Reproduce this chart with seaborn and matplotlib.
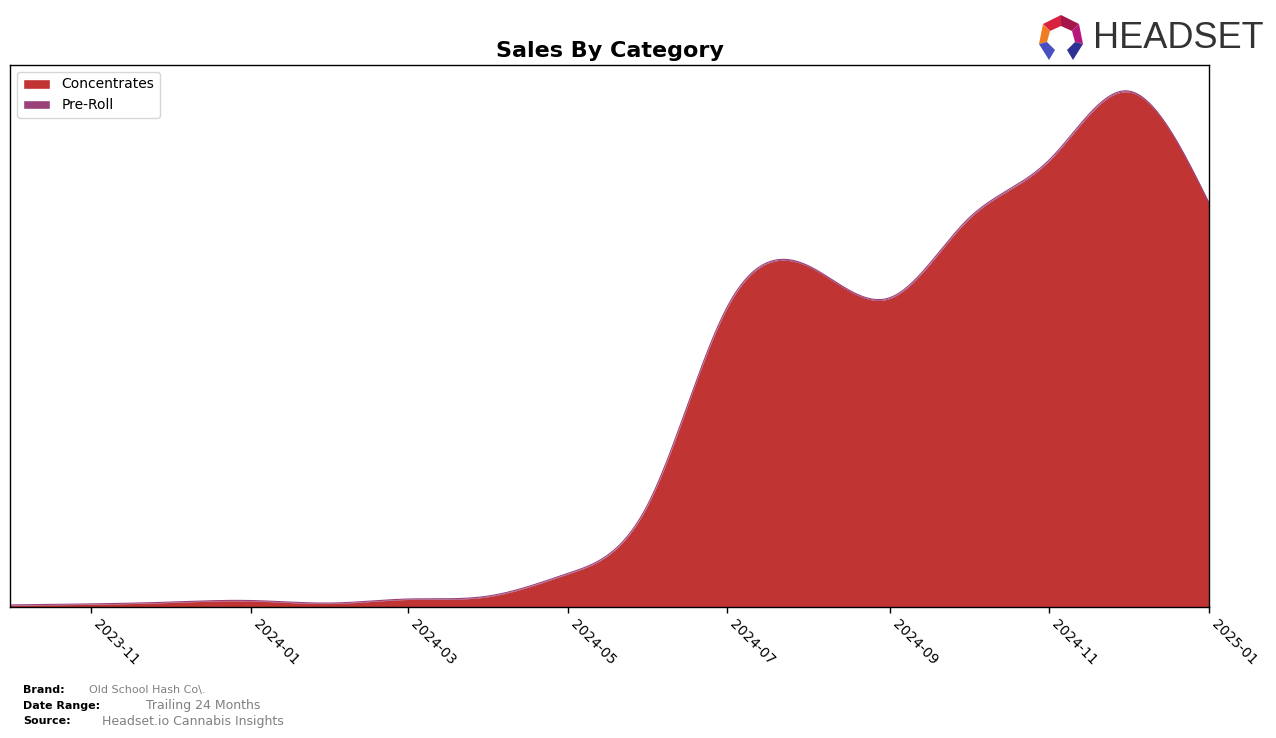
import numpy as np
import pandas as pd
import matplotlib
matplotlib.use("Agg")
import matplotlib.pyplot as plt
import matplotlib.dates as mdates
from matplotlib.patches import Patch, Polygon
import seaborn as sns

# ---------------- data ----------------
months = ["2023-10", "2023-11", "2023-12", "2024-01", "2024-02", "2024-03",
          "2024-04", "2024-05", "2024-06", "2024-07", "2024-08", "2024-09",
          "2024-10", "2024-11", "2024-12", "2025-01"]
concentrates = [170, 270, 450, 600, 350, 750, 1050, 3300, 10400, 30000,
                34100, 30900, 38800, 44700, 51600, 40400]
pre_roll = [40, 40, 40, 50, 50, 50, 60, 60, 70, 80, 80, 80, 90, 100, 100, 90]
categories = ["Concentrates", "Pre-Roll"]
colors = ["#c03434", "#9b4179"]
tick_months = ["2023-11", "2024-01", "2024-03", "2024-05", "2024-07",
               "2024-09", "2024-11", "2025-01"]

df = pd.DataFrame({"month": pd.to_datetime(months),
                   "Concentrates": concentrates, "Pre-Roll": pre_roll})


def natural_spline(x, y, xs):
    x = np.asarray(x, float)
    y = np.asarray(y, float)
    n = len(x)
    h = np.diff(x)
    A = np.zeros((n, n))
    b = np.zeros(n)
    A[0, 0] = 1
    A[-1, -1] = 1
    for i in range(1, n - 1):
        A[i, i - 1] = h[i - 1]
        A[i, i] = 2 * (h[i - 1] + h[i])
        A[i, i + 1] = h[i]
        b[i] = 3 * ((y[i + 1] - y[i]) / h[i] - (y[i] - y[i - 1]) / h[i - 1])
    c = np.linalg.solve(A, b)
    idx = np.clip(np.searchsorted(x, xs) - 1, 0, n - 2)
    t = xs - x[idx]
    bb = (y[idx + 1] - y[idx]) / h[idx] - h[idx] * (2 * c[idx] + c[idx + 1]) / 3
    dd = (c[idx + 1] - c[idx]) / (3 * h[idx])
    return y[idx] + bb * t + c[idx] * t ** 2 + dd * t ** 3


xnum = mdates.date2num(df["month"])
xs = np.linspace(xnum[0], xnum[-1], 1200)
conc_s = np.clip(natural_spline(xnum, df["Concentrates"], xs), 0, None)
pre_s = np.clip(natural_spline(xnum, df["Pre-Roll"], xs), 0, None)
top_s = conc_s + pre_s
xs_dates = mdates.num2date(xs)

# ---------------- figure ----------------
sns.set_style("white")
plt.rcParams["font.family"] = ["DejaVu Sans"]
plt.rcParams["text.color"] = "black"
plt.rcParams["xtick.color"] = "black"
plt.rcParams["axes.labelcolor"] = "black"

fig = plt.figure(figsize=(12.76, 7.38), dpi=100)
ax = fig.add_axes([10 / 1276, 1 - 607 / 738, (1209 - 10) / 1276, (607 - 65) / 738])

ax.fill_between(xs_dates, 0, conc_s, color=colors[0], linewidth=0)
ax.fill_between(xs_dates, conc_s, top_s, color=colors[1], linewidth=0)
smooth_df = pd.DataFrame({"date": xs_dates, "top": top_s})
sns.lineplot(data=smooth_df, x="date", y="top", ax=ax, color=colors[1],
             linewidth=0.8, legend=False)

ax.set_xlim(df["month"].iloc[0], df["month"].iloc[-1])
ax.set_ylim(0, top_s.max() * 1.05)
ax.set_yticks([])
ax.set_xlabel("")
ax.set_ylabel("")
ticks = pd.to_datetime(tick_months)
ax.set_xticks(ticks)
ax.set_xticklabels([t.strftime("%Y-%m") for t in ticks], rotation=-45,
                   ha="left", fontsize=10, color="black")
ax.tick_params(axis="x", length=4, width=1, color="black", bottom=True, pad=3)
for s in ax.spines.values():
    s.set_visible(True)
    s.set_color("black")
    s.set_linewidth(1)

ax.set_title("Sales By Category", fontsize=16, fontweight="bold", pad=6,
             color="black")

handles = [Patch(facecolor=colors[i], label=categories[i]) for i in range(2)]
leg = ax.legend(handles=handles, loc="upper left", fontsize=10, frameon=True,
                borderaxespad=0.5)
for t in leg.get_texts():
    t.set_color("black")

# ---------------- footer ----------------
def fx(px):
    return px / 1276


def fy(py):
    return 1 - py / 738


fig.text(fx(23), fy(690), "Brand:", fontsize=8, fontweight="bold", va="center")
fig.text(fx(89), fy(690), "Old School Hash Co\\.", fontsize=8, color="#808080", va="center")
fig.text(fx(23), fy(706), "Date Range:", fontsize=8, fontweight="bold", va="center")
fig.text(fx(146), fy(706), "Trailing 24 Months", fontsize=9, color="#808080", va="center")
fig.text(fx(23), fy(721), "Source:", fontsize=8, fontweight="bold", va="center")
fig.text(fx(102), fy(721), "Headset.io Cannabis Insights", fontsize=9, color="#808080", va="center")

# ---------------- logo ----------------
logo_parts = [
    ([(1061, 15), (1043, 24), (1050, 31), (1061, 26)], "#d8223f"),
    ([(1061, 15), (1079, 24), (1072, 31), (1061, 26)], "#a3174a"),
    ([(1043, 24), (1039, 44), (1047, 42), (1050, 31)], "#f07b22"),
    ([(1079, 24), (1083, 44), (1075, 42), (1072, 31)], "#b5177d"),
    ([(1039, 44), (1047, 42), (1055, 50), (1049, 60)], "#4a4fc0"),
    ([(1083, 44), (1075, 42), (1067, 50), (1073, 60)], "#2e3192"),
]
for pts, col in logo_parts:
    fig.patches.append(Polygon([(fx(a), fy(b)) for a, b in pts], closed=True,
                               facecolor=col, edgecolor="none",
                               transform=fig.transFigure, figure=fig))
fig.text(fx(1093), fy(39), "HEADSET", fontsize=26, color="#333333",
         family=["Liberation Sans", "DejaVu Sans"], va="center", ha="left")

fig.savefig("out.png", dpi=100)
